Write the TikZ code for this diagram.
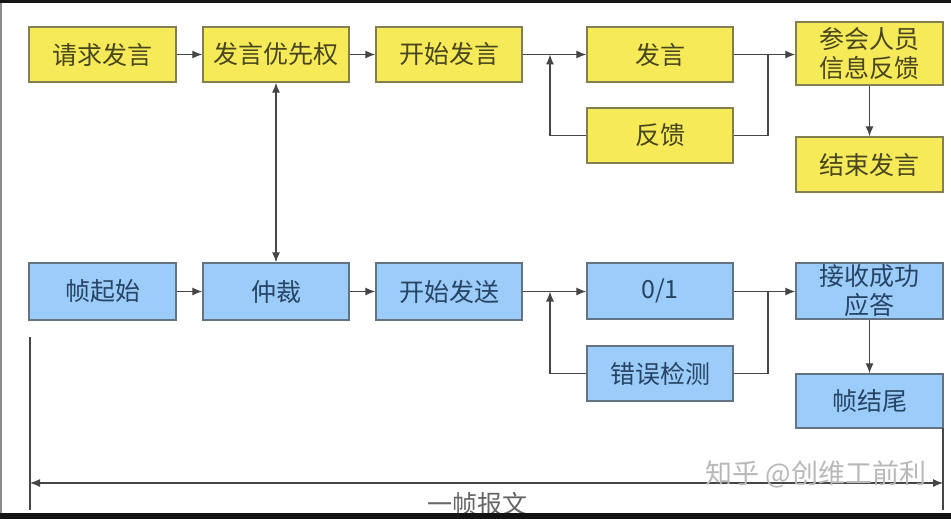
\documentclass[tikz,border=0pt]{standalone}
\usepackage{fontspec}
\newfontfamily\cjk{Noto Sans CJK SC}
\usetikzlibrary{arrows.meta}
\definecolor{yfill}{RGB}{246,234,88}
\definecolor{ydraw}{RGB}{130,128,80}
\definecolor{ytext}{RGB}{72,70,30}
\definecolor{bfill}{RGB}{155,204,250}
\definecolor{bdraw}{RGB}{100,115,130}
\definecolor{btext}{RGB}{40,68,100}
\definecolor{lcol}{RGB}{70,70,70}
\tikzset{
  ybox/.style={draw=ydraw, fill=yfill, line width=1.3pt, text=ytext, inner sep=0pt,
    font=\cjk\fontsize{25}{29}\selectfont, align=center},
  bbox/.style={draw=bdraw, fill=bfill, line width=1.3pt, text=btext, inner sep=0pt,
    font=\cjk\fontsize{25}{29}\selectfont, align=center},
  conn/.style={draw=lcol, line width=1.2pt},
  arr/.style={conn, -{Latex[length=10pt,width=8pt]}},
  darr/.style={conn, {Latex[length=10pt,width=8pt]}-{Latex[length=10pt,width=8pt]}},
}
\begin{document}
\begin{tikzpicture}[x=1pt,y=-1pt]
\useasboundingbox (0,0) rectangle (951,519);
\fill[white] (0,0) rectangle (951,519);
% top row
\node[ybox, minimum width=147pt, minimum height=55pt] (q) at (102.5,54.5) {请求发言};
\node[ybox, minimum width=146pt, minimum height=55pt] (p) at (276,54.5) {发言优先权};
\node[ybox, minimum width=146pt, minimum height=55pt] (k) at (449,54.5) {开始发言};
\node[ybox, minimum width=146pt, minimum height=55pt] (f) at (660,54.5) {发言};
\node[ybox, minimum width=146pt, minimum height=55pt] (fk) at (660,135.5) {反馈};
\node[ybox, minimum width=147pt, minimum height=63pt] (ch) at (869.5,53.5) {参会人员\\信息反馈};
\node[ybox, minimum width=147pt, minimum height=55pt] (js) at (869.5,164.5) {结束发言};
% bottom row
\node[bbox, minimum width=147pt, minimum height=57pt] (zq) at (102.5,291.5) {帧起始};
\node[bbox, minimum width=146pt, minimum height=57pt] (zc) at (276,291.5) {仲裁};
\node[bbox, minimum width=146pt, minimum height=57pt] (ks) at (449,291.5) {开始发送};
\node[bbox, minimum width=146pt, minimum height=56pt] (o1) at (660,291) {0/1};
\node[bbox, minimum width=146pt, minimum height=55pt] (cw) at (660,373.5) {错误检测};
\node[bbox, minimum width=147pt, minimum height=56pt] (js2) at (869.5,291) {接收成功\\应答};
\node[bbox, minimum width=147pt, minimum height=54pt] (zw) at (869.5,401) {帧结尾};
% top connectors
\draw[arr] (q.east) -- (p.west);
\draw[arr] (p.east) -- (k.west);
\draw[arr] (k.east) -- (f.west);
\coordinate (j1) at (550,54.5);
\coordinate (j1b) at (550,135.5);
\draw[arr] (fk.west) -- (j1b) -- (j1);
\draw[arr] (f.east) -- (ch.west |- f.east);
\coordinate (j2) at (768,54.5);
\coordinate (j2b) at (768,135.5);
\draw[conn] (fk.east) -- (j2b) -- (j2);
\draw[arr] (ch.south) -- (js.north);
\draw[darr] (p.south) -- (zc.north);
% bottom connectors
\draw[arr] (zq.east) -- (zc.west);
\draw[arr] (zc.east) -- (ks.west);
\draw[arr] (ks.east) -- (o1.west |- ks.east);
\coordinate (j3) at (550,291.5);
\coordinate (j3b) at (550,373.5);
\draw[arr] (cw.west) -- (j3b) -- (j3);
\draw[arr] (o1.east |- ks.east) -- (js2.west |- ks.east);
\coordinate (j4) at (768,291.5);
\coordinate (j4b) at (768,373.5);
\draw[conn] (cw.east) -- (j4b) -- (j4);
\draw[arr] (js2.south) -- (zw.north);
% frame span
\coordinate (l1) at (30,337);
\coordinate (l2) at (30,510);
\coordinate (r1) at (943,428);
\coordinate (r2) at (943,510);
\draw[conn] (l1) -- (l2);
\draw[conn] (r1) -- (r2);
\coordinate (ha) at (30,483);
\coordinate (hb) at (943,483);
\draw[darr] (ha) -- (hb);
\node[font=\cjk\fontsize{25}{29}\selectfont, text=black!60, inner sep=0pt] (lab) at (477,504) {一帧报文};
\node[font=\cjk\fontsize{27}{30}\selectfont, text=black!28, inner sep=0pt] (wm) at (816,474) {知乎 @创维工前利};
% dark frame edges
\fill[black!92] (0,0) rectangle (951,3);
\fill[black!92] (0,513) rectangle (951,519);
\fill[black!45] (0,3) rectangle (2,513);
\end{tikzpicture}
\end{document}
